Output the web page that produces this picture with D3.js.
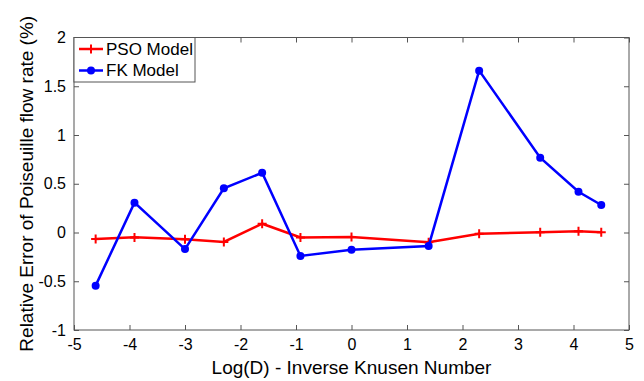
<!DOCTYPE html>
<meta charset="utf-8">
<style>
body { margin: 0; background: #fff; }
text { font-family: "Liberation Sans", Arial, sans-serif; fill: #000; }
.tick text { font-size: 16px; font-family: "Liberation Sans", Arial, sans-serif; fill: #000; }
.axis-title { font-size: 19px; }
.legend text { font-size: 17px; }
</style>
<svg width="644" height="381"></svg>
<script src="https://d3js.org/d3.v7.min.js"></script>
<script>

// log(D) positions and relative error (%) for each model
var logD = [-4.61, -3.91, -3.0, -2.30, -1.61, -0.92, 0, 1.39, 2.30, 3.40, 4.09, 4.50];
var psoErr = [-0.067, -0.05, -0.07, -0.097, 0.09, -0.05, -0.046, -0.10, -0.012, 0.002, 0.012, 0.002];
var fkErr = [-0.545, 0.306, -0.17, 0.453, 0.613, -0.24, -0.176, -0.138, 1.66, 0.767, 0.418, 0.282];
var xTicks = [-5, -4, -3, -2, -1, 0, 1, 2, 3, 4, 5];
var yTicks = [-1, -0.5, 0, 0.5, 1, 1.5, 2];

var svg = d3.select("svg"),
    margin = {top: 37.5, right: 15, bottom: 51, left: 74},
    width = 644 - margin.left - margin.right,
    height = 381 - margin.top - margin.bottom,
    g = svg.append("g").attr("transform", "translate(" + margin.left + "," + margin.top + ")");

var x = d3.scaleLinear().domain([-5, 5]).range([0, width]);
var y = d3.scaleLinear().domain([-1, 2]).range([height, 0]);

var axisColor = "#555";

function styleAxis(sel) {
  sel.select(".domain").remove();
  sel.selectAll(".tick line").attr("stroke", axisColor);
}

// plain hyphen for negatives, like the original
var fmt = function(d) { return String(d); };

// bottom / left axes with labels, top / right with ticks only (ticks point inward)
g.append("g").attr("transform", "translate(0," + height + ")")
    .call(d3.axisBottom(x).tickValues(xTicks).tickSize(-5).tickPadding(9).tickFormat(fmt))
    .call(styleAxis);

g.append("g")
    .call(d3.axisLeft(y).tickValues(yTicks).tickSize(-5).tickPadding(8).tickFormat(fmt))
    .call(styleAxis);

g.append("g")
    .call(d3.axisTop(x).tickValues(xTicks).tickSize(-5).tickFormat(""))
    .call(styleAxis);

g.append("g").attr("transform", "translate(" + width + ",0)")
    .call(d3.axisRight(y).tickValues(yTicks).tickSize(-5).tickFormat(""))
    .call(styleAxis);

g.append("rect")
    .attr("width", width).attr("height", height)
    .attr("fill", "none").attr("stroke", axisColor).attr("stroke-width", 1);

var line = d3.line()
    .x(function(d) { return x(d[0]); })
    .y(function(d) { return y(d[1]); });

var pso = logD.map(function(d, i) { return [d, psoErr[i]]; });
var fk = logD.map(function(d, i) { return [d, fkErr[i]]; });

g.append("path").datum(pso)
    .attr("fill", "none").attr("stroke", "#f00").attr("stroke-width", 2.5)
    .attr("d", line);

g.selectAll(".pso-mark").data(pso).enter().append("path")
    .attr("class", "pso-mark")
    .attr("transform", function(d) { return "translate(" + x(d[0]) + "," + y(d[1]) + ")"; })
    .attr("d", "M-4.5,0H4.5M0,-4.5V4.5")
    .attr("stroke", "#f00").attr("stroke-width", 2);

g.append("path").datum(fk)
    .attr("fill", "none").attr("stroke", "#00f").attr("stroke-width", 2.5)
    .attr("d", line);

g.selectAll(".fk-mark").data(fk).enter().append("circle")
    .attr("class", "fk-mark")
    .attr("cx", function(d) { return x(d[0]); })
    .attr("cy", function(d) { return y(d[1]); })
    .attr("r", 4)
    .attr("fill", "#00f");

// legend
var legend = g.append("g").attr("class", "legend");
legend.append("rect")
    .attr("x", 0).attr("y", 0).attr("width", 121).attr("height", 44.5)
    .attr("fill", "#fff").attr("stroke", axisColor);

legend.append("line").attr("x1", 5).attr("x2", 29).attr("y1", 11.5).attr("y2", 11.5)
    .attr("stroke", "#f00").attr("stroke-width", 2.5);
legend.append("path").attr("d", "M12.5,11.5H21.5M17,7V16").attr("stroke", "#f00").attr("stroke-width", 2);
legend.append("text").attr("x", 32).attr("y", 11.5).attr("dy", "0.35em").text("PSO Model");

legend.append("line").attr("x1", 5).attr("x2", 29).attr("y1", 33).attr("y2", 33)
    .attr("stroke", "#00f").attr("stroke-width", 2.5);
legend.append("circle").attr("cx", 17).attr("cy", 33).attr("r", 4).attr("fill", "#00f");
legend.append("text").attr("x", 32).attr("y", 33).attr("dy", "0.35em").text("FK Model");

// axis titles
svg.append("text").attr("class", "axis-title")
    .attr("x", margin.left + width / 2).attr("y", 374)
    .attr("text-anchor", "middle")
    .text("Log(D) - Inverse Knusen Number");

svg.append("text").attr("class", "axis-title")
    .attr("transform", "translate(33," + (margin.top + height / 2) + ") rotate(-90)")
    .attr("text-anchor", "middle")
    .text("Relative Error of Poiseuille flow rate (%)");

</script>
